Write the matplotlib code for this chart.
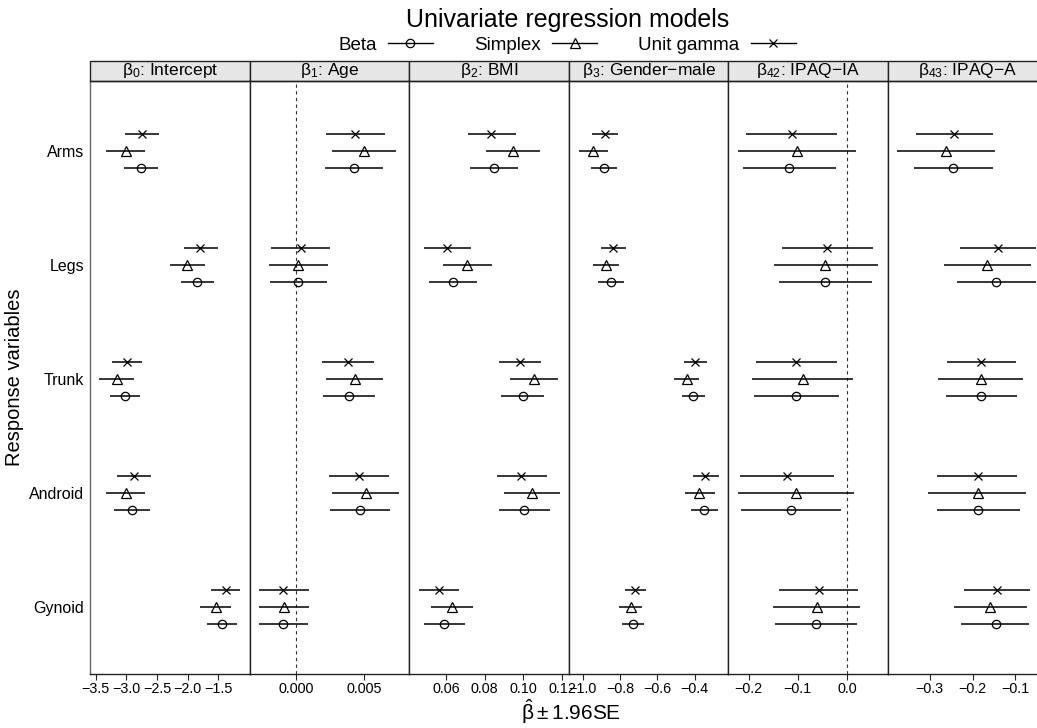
import matplotlib.pyplot as plt
from matplotlib.lines import Line2D
from matplotlib.patches import Rectangle

plt.rcParams['font.family'] = ['Liberation Sans', 'DejaVu Sans']
plt.rcParams['mathtext.fontset'] = 'custom'
plt.rcParams['mathtext.rm'] = 'Liberation Sans'
plt.rcParams['mathtext.it'] = 'Liberation Sans:italic'

responses = ['Arms', 'Legs', 'Trunk', 'Android', 'Gynoid']
panels = [r'$\mathrm{β}_{0}$: Intercept', r'$\mathrm{β}_{1}$: Age', r'$\mathrm{β}_{2}$: BMI',
          r'$\mathrm{β}_{3}$: Gender−male', r'$\mathrm{β}_{42}$: IPAQ−IA', r'$\mathrm{β}_{43}$: IPAQ−A']
models = ['Beta', 'Simplex', 'Unit gamma']

# estimates and 95% limits, one row per panel, columns = responses
beta_est = [[-2.76, -1.84, -3.02, -2.90, -1.44],
            [0.00424, 0.00012, 0.00387, 0.00468, -0.00099],
            [0.0846, 0.0636, 0.0996, 0.1005, 0.0591],
            [-0.887, -0.850, -0.406, -0.349, -0.728],
            [-0.117, -0.045, -0.103, -0.114, -0.063],
            [-0.245, -0.144, -0.181, -0.186, -0.146]]
beta_lo = [[-3.04, -2.11, -3.27, -3.20, -1.68],
           [0.00209, -0.00198, 0.00197, 0.00244, -0.00279],
           [0.0723, 0.0513, 0.0886, 0.0873, 0.0486],
           [-0.955, -0.916, -0.466, -0.418, -0.787],
           [-0.211, -0.139, -0.189, -0.215, -0.146],
           [-0.337, -0.236, -0.263, -0.283, -0.226]]
beta_hi = [[-2.48, -1.57, -2.77, -2.61, -1.20],
           [0.00641, 0.00224, 0.00581, 0.00692, 0.00086],
           [0.0974, 0.0759, 0.1109, 0.1137, 0.0699],
           [-0.816, -0.780, -0.343, -0.276, -0.670],
           [-0.022, 0.051, -0.017, -0.012, 0.020],
           [-0.153, -0.052, -0.096, -0.088, -0.067]]

simplex_est = [[-3.01, -2.01, -3.16, -3.01, -1.54],
               [0.00498, 0.00012, 0.00429, 0.00510, -0.00094],
               [0.0946, 0.0711, 0.1054, 0.1043, 0.0633],
               [-0.942, -0.877, -0.443, -0.374, -0.743],
               [-0.102, -0.044, -0.090, -0.103, -0.061],
               [-0.263, -0.166, -0.181, -0.188, -0.158]]
simplex_lo = [[-3.33, -2.29, -3.44, -3.33, -1.79],
              [0.00259, -0.00203, 0.00215, 0.00263, -0.00279],
              [0.0806, 0.0582, 0.0929, 0.0901, 0.0524],
              [-1.021, -0.946, -0.513, -0.452, -0.805],
              [-0.222, -0.149, -0.193, -0.221, -0.150],
              [-0.377, -0.267, -0.280, -0.303, -0.243]]
simplex_hi = [[-2.69, -1.71, -2.88, -2.70, -1.29],
              [0.00735, 0.00229, 0.00641, 0.00759, 0.00093],
              [0.1088, 0.0839, 0.1178, 0.1189, 0.0742],
              [-0.862, -0.803, -0.374, -0.292, -0.682],
              [0.018, 0.062, 0.013, 0.015, 0.027],
              [-0.147, -0.064, -0.083, -0.075, -0.073]]

ugamma_est = [[-2.75, -1.79, -2.99, -2.87, -1.38],
              [0.00431, 0.00030, 0.00377, 0.00461, -0.00099],
              [0.0835, 0.0605, 0.0982, 0.0990, 0.0562],
              [-0.882, -0.837, -0.397, -0.342, -0.718],
              [-0.112, -0.040, -0.104, -0.122, -0.058],
              [-0.244, -0.140, -0.181, -0.188, -0.143]]
ugamma_lo = [[-3.02, -2.05, -3.23, -3.15, -1.61],
             [0.00215, -0.00185, 0.00189, 0.00241, -0.00279],
             [0.0712, 0.0484, 0.0875, 0.0865, 0.0458],
             [-0.951, -0.903, -0.458, -0.410, -0.775],
             [-0.205, -0.132, -0.186, -0.217, -0.138],
             [-0.333, -0.230, -0.259, -0.282, -0.220]]
ugamma_hi = [[-2.47, -1.51, -2.74, -2.59, -1.15],
             [0.00651, 0.00246, 0.00570, 0.00683, 0.00089],
             [0.0962, 0.0728, 0.1094, 0.1120, 0.0668],
             [-0.811, -0.768, -0.336, -0.271, -0.659],
             [-0.020, 0.053, -0.021, -0.026, 0.022],
             [-0.153, -0.051, -0.098, -0.095, -0.065]]

xticks = [[-3.5, -3.0, -2.5, -2.0, -1.5], [0.0, 0.005], [0.06, 0.08, 0.10, 0.12],
          [-1.0, -0.8, -0.6, -0.4], [-0.2, -0.1, 0.0], [-0.3, -0.2, -0.1]]
tick_fmt = ['%.1f', '%.3f', '%.2f', '%.1f', '%.1f', '%.1f']
xlims = [(-3.593, -0.987), (-0.003454, 0.008306), (0.04094, 0.12353),
         (-1.0743, -0.2187), (-0.2411, 0.0831), (-0.3977, -0.0243)]

series = [
    (beta_est, beta_lo, beta_hi, 'o', 0.15, 6),
    (simplex_est, simplex_lo, simplex_hi, '^', 0.0, 7),
    (ugamma_est, ugamma_lo, ugamma_hi, 'x', -0.15, 6),
]

W, H = 1037, 728
fig = plt.figure(figsize=(W / 100, H / 100), dpi=100)

left, pw, top, bottom, strip = 90, 159.6, 81, 674, 20
edge = '#222222'

for p in range(6):
    ax = fig.add_axes([(left + p * pw) / W, (H - bottom) / H, pw / W, (bottom - top) / H])
    lo_x, hi_x = xlims[p]
    if lo_x < 0 < hi_x:
        ax.axvline(0, color='#333333', lw=0.8, ls=(0, (3, 3)))
    for est, lo, hi, mk, off, ms in series:
        ys = [i + off for i in range(len(responses))]
        ax.hlines(ys, lo[p], hi[p], color='black', lw=1.1)
        ax.plot(est[p], ys, ls='none', marker=mk, ms=ms, mfc='none', mec='black', mew=0.9)
    ax.set_xlim(lo_x, hi_x)
    ax.set_ylim(4.588, -0.614)
    ax.set_xticks(xticks[p])
    ax.set_xticklabels([(tick_fmt[p] % t).replace('-', '−') for t in xticks[p]], fontsize=10.4)
    ax.tick_params(axis='x', length=4, width=0.8, pad=2, color=edge)
    if p == 0:
        ax.set_yticks(range(len(responses)))
        ax.set_yticklabels(responses, fontsize=11.5)
        ax.tick_params(axis='y', length=0, pad=4)
    else:
        ax.set_yticks([])
    for s in ax.spines.values():
        s.set_color(edge)
        s.set_linewidth(1.0)
    if p == 0:
        ax.spines['left'].set_color('#666666')
    ax.add_patch(Rectangle((0, 1), 1, strip / (bottom - top), transform=ax.transAxes,
                           facecolor='#e6e6e6', edgecolor=edge, lw=1.0, clip_on=False))
    ax.text(0.5, 1 + strip / (bottom - top) / 2, panels[p], transform=ax.transAxes,
            ha='center', va='center', fontsize=12.5)

fig.text(568 / W, 1 - 20 / H, 'Univariate regression models', ha='center', va='center', fontsize=18)

handles = [Line2D([], [], color='black', lw=1, marker=mk, ms=ms, mfc='none', mew=0.9)
           for _, _, _, mk, _, ms in series]
fig.legend(handles, models, ncol=3, loc='center', bbox_to_anchor=(567 / W, 1 - 45 / H),
           frameon=False, markerfirst=False, fontsize=13.5, handlelength=2.4,
           columnspacing=2.2, handletextpad=0.6)

fig.text(15 / W, 1 - 377 / H, 'Response variables', rotation=90, ha='center', va='center',
         fontsize=14.5)
fig.text(571 / W, 1 - 712 / H, r'$\hat{\mathrm{β}}\pm1.96\mathrm{SE}$', ha='center', va='center',
         fontsize=15)

fig.savefig('out.png', dpi=100)
